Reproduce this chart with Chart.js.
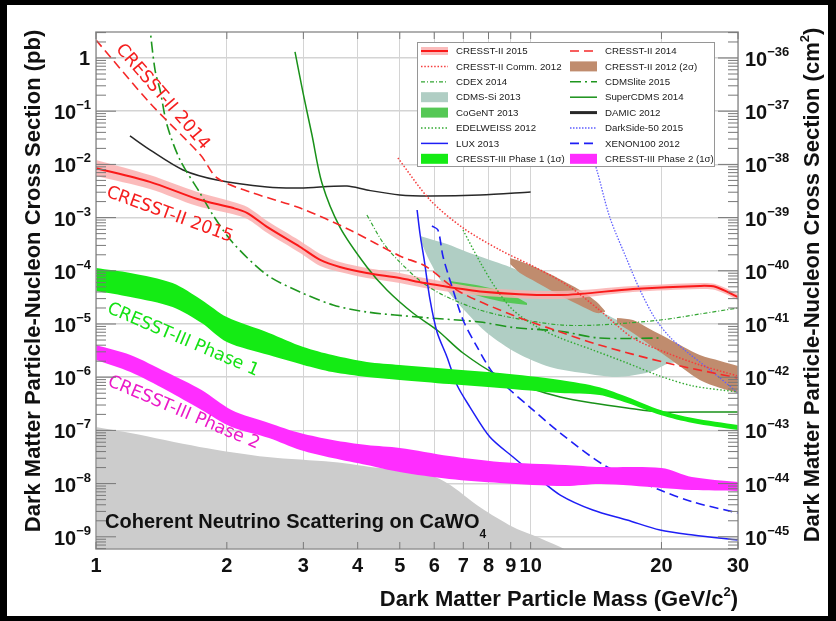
<!DOCTYPE html>
<html>
<head>
<meta charset="utf-8">
<script src="https://cdn.jsdelivr.net/npm/chart.js@4.4.1/dist/chart.umd.min.js"></script>
<style>
  html, body { margin: 0; padding: 0; background: #000; }
  #wrap { position: absolute; left: 0; top: 0; width: 836px; height: 621px; }
</style>
</head>
<body>
<div id="wrap"><canvas id="chart" width="836" height="621"></canvas></div>
<script>
// axis setup
var xTicks = [1, 2, 3, 4, 5, 6, 7, 8, 9, 10, 20, 30];
var yDecades = [0, -1, -2, -3, -4, -5, -6, -7, -8, -9];
var cmShift = 36; // 1 pb = 1e-36 cm^2

// mass in GeV/c^2, cross sections in pb
var c15Mass = [1.0, 1.33, 1.71, 2.07, 2.23, 2.48, 2.95, 3.28, 3.64, 4.2, 5.0, 5.7, 7.65, 11.7, 17.2, 24.5, 26.6, 30];
var c15Xs = [8.5e-3, 4.7e-3, 2.24e-3, 1.51e-3, 1.22e-3, 6.6e-4, 2.8e-4, 1.6e-4, 1.18e-4, 9.1e-5, 7.3e-5, 5.9e-5, 4.1e-5, 3.5e-5, 4.55e-5, 5.2e-5, 5.0e-5, 3.2e-5];
var c15Hi = [1.21e-2, 6.3e-3, 3.03e-3, 1.96e-3, 1.58e-3, 8.6e-4, 3.63e-4, 2.08e-4, 1.47e-4, 1.13e-4, 9.1e-5, 7.3e-5, 4.85e-5, 4.17e-5, 5.18e-5, 5.9e-5, 5.65e-5, 3.67e-5];
var c15Lo = [6.05e-3, 3.45e-3, 1.65e-3, 1.16e-3, 9.4e-4, 5.13e-4, 2.16e-4, 1.23e-4, 9.5e-5, 7.33e-5, 5.88e-5, 4.75e-5, 3.43e-5, 2.95e-5, 4.0e-5, 4.55e-5, 4.35e-5, 2.83e-5];

var c14Mass = [1.0, 1.33, 1.74, 1.9, 2.26, 2.95, 3.84, 5.0, 5.72, 6.88, 9.21, 11.7, 14.4, 20.6, 30];
var c14Xs = [2.18, 0.143, 0.015, 5.55e-3, 3.03e-3, 1.51e-3, 5.85e-4, 1.9e-4, 1.23e-4, 4.0e-5, 1.41e-5, 7.08e-6, 4.03e-6, 1.85e-6, 9.65e-7];

var c12Mass = [4.95, 5.87, 6.99, 8.5, 10.1, 12.13, 14.4, 17.2, 20.6, 24.5, 30];
var c12Xs = [1.32e-2, 2.14e-3, 6.4e-4, 2.46e-4, 1.23e-4, 5.4e-5, 1.83e-5, 5.45e-6, 2.85e-6, 1.7e-6, 1.05e-6];

var brown1Mass = [8.97, 9.45, 10.1, 11.08, 12.13, 13.2, 14.2, 14.84];
var brown1Hi = [1.74e-4, 1.53e-4, 1.23e-4, 8.7e-5, 5.9e-5, 4.0e-5, 2.59e-5, 1.75e-5];
var brown1Lo = [1.34e-4, 9.1e-5, 6.7e-5, 4.36e-5, 2.95e-5, 2.09e-5, 1.61e-5, 1.68e-5];
var brown2Mass = [15.8, 17.2, 18.8, 20.6, 22.5, 24.5, 27.3, 30];
var brown2Hi = [1.3e-5, 1.19e-5, 8.05e-6, 5.45e-6, 3.7e-6, 2.61e-6, 2.02e-6, 1.63e-6];
var brown2Lo = [1.05e-5, 6.78e-6, 4.03e-6, 2.4e-6, 1.43e-6, 8.9e-7, 6.27e-7, 5.05e-7];

var cdexMass = [4.2, 4.58, 5.0, 5.65, 6.42, 7.65, 9.11, 11.7, 14.4, 19.9, 24.5, 30];
var cdexXs = [1.12e-3, 3.33e-4, 1.46e-4, 5.9e-5, 3.22e-5, 1.83e-5, 1.3e-5, 9.6e-6, 9.6e-6, 1.19e-5, 1.54e-5, 2.0e-5];

var liteMass = [1.325, 1.367, 1.404, 1.457, 1.561, 1.735, 1.858, 2.067, 2.475, 2.947, 3.51, 4.2, 5.65, 7.65, 9.11, 11.7, 14.4, 19.9];
var liteXs = [5, 0.595, 0.25, 0.0551, 0.0121, 2.9e-3, 1.12e-3, 3.33e-4, 8.34e-5, 4.0e-5, 2.28e-5, 1.68e-5, 1.33e-5, 1.09e-5, 8.6e-6, 7.3e-6, 5.45e-6, 5.45e-6];

var siMass = [5.57, 5.87, 6.42, 7.14, 7.94, 9.3, 11.08, 13.2, 15.8, 18.8, 20.6, 21.7];
var siHi = [4.51e-4, 3.96e-4, 3.19e-4, 2.26e-4, 1.67e-4, 1.04e-4, 4.75e-5, 2.48e-5, 1.19e-5, 5.45e-6, 2.98e-6, 1.93e-6];
var siLo = [3.79e-4, 1.46e-4, 4.36e-5, 1.61e-5, 6.78e-6, 2.85e-6, 1.56e-6, 1.2e-6, 1.01e-6, 1.25e-6, 1.77e-6, 1.93e-6];

var superMass = [2.87, 2.995, 3.14, 3.31, 3.64, 4.2, 4.67, 5.36, 6.09, 6.99, 8.37, 9.95, 11.7, 13.9, 16.67, 19.85, 24.5, 30];
var superXs = [1.3, 0.22, 0.0357, 4.47e-3, 6.65e-4, 1.18e-4, 4.36e-5, 1.61e-5, 7.71e-6, 2.85e-6, 1.1e-6, 6.27e-7, 4.25e-7, 3.27e-7, 2.64e-7, 2.22e-7, 2.22e-7, 2.22e-7];

var cogentMass = [6.52, 7.25, 8.06, 8.97, 9.81];
var cogentHi = [6.43e-5, 5.65e-5, 4.75e-5, 3.66e-5, 2.48e-5];
var cogentLo = [5.65e-5, 3.83e-5, 2.95e-5, 2.48e-5, 2.28e-5];

var damicMass = [1.197, 1.331, 1.586, 1.898, 2.475, 2.947, 3.78, 4.2, 5.0, 5.87, 7.65, 10.0];
var damicXs = [0.0342, 0.0187, 7.85e-3, 5.09e-3, 3.76e-3, 3.6e-3, 3.93e-3, 3.3e-3, 2.66e-3, 2.55e-3, 2.66e-3, 3.03e-3];

var edwMass = [6.99, 7.65, 8.37, 9.11, 10.35, 11.7, 13.9, 16.67, 19.85, 23.64, 30];
var edwXs = [5.85e-4, 1.46e-4, 4.36e-5, 1.83e-5, 8.79e-6, 5.45e-6, 3.25e-6, 1.85e-6, 1.05e-6, 6.84e-7, 5.27e-7];

var dsMass = [13.7, 14.2, 15.2, 16.67, 17.85, 19.3, 20.9, 22.9, 25.9, 30];
var dsXs = [0.0187, 7.85e-3, 1.03e-3, 1.6e-4, 4.36e-5, 1.3e-5, 5.7e-6, 2.98e-6, 1.36e-6, 5.05e-7];

var luxMass = [5.48, 5.57, 5.69, 5.87, 6.09, 6.42, 6.77, 7.25, 8.06, 9.11, 10.35, 11.7, 13.9, 16.67, 19.85, 23.64, 30];
var luxXs = [1.39e-3, 4.71e-4, 1.6e-4, 2.83e-5, 7.08e-6, 2.4e-6, 7.13e-7, 2.75e-7, 7.5e-8, 3.16e-8, 1.33e-8, 6.1e-9, 3.19e-9, 2.07e-9, 1.34e-9, 1.08e-9, 8.7e-10];

var xeMass = [5.93, 6.12, 6.29, 6.63, 6.99, 7.53, 8.19, 8.97, 9.95, 11.7, 15.0, 19.85, 23.64, 30];
var xeXs = [6.95e-4, 5.85e-4, 1.82e-4, 4.36e-5, 1.19e-5, 3.7e-6, 1.2e-6, 5.74e-7, 2.75e-7, 8.93e-8, 2.05e-8, 7.58e-9, 4.51e-9, 2.8e-9];

var p1Mass = [1, 1.2, 1.5, 1.75, 2, 2.5, 3, 3.5, 4.2, 5, 6.5, 8.5, 11.7, 14.4, 16.7, 19.9, 23.6, 30];
var p1Hi = [1.13e-4, 9.1e-5, 5.9e-5, 2.83e-5, 1.35e-5, 6.8e-6, 3.7e-6, 2.61e-6, 1.93e-6, 1.7e-6, 1.43e-6, 1.2e-6, 8.9e-7, 6.5e-7, 4.25e-7, 2.42e-7, 1.71e-7, 1.26e-7];
var p1Lo = [4.17e-5, 3.22e-5, 2.09e-5, 1.045e-5, 4.6e-6, 2.61e-6, 1.7e-6, 1.25e-6, 1.01e-6, 8.9e-7, 7.45e-7, 6.27e-7, 5.05e-7, 4.63e-7, 3.27e-7, 1.95e-7, 1.38e-7, 1.02e-7];

var p2Mass = [1, 1.2, 1.45, 1.75, 2.05, 2.5, 2.95, 3.5, 4.2, 5, 6.5, 8.5, 12, 14.5, 20, 23.5, 30];
var p2Hi = [4.03e-6, 2.61e-6, 1.25e-6, 5.74e-7, 2.42e-7, 1.38e-7, 8.9e-8, 6.6e-8, 5.3e-8, 4.67e-8, 3.3e-8, 2.55e-8, 2.24e-8, 2.05e-8, 1.96e-8, 1.33e-8, 1.07e-8];
var p2Lo = [2.1e-6, 1.25e-6, 5.74e-7, 2.42e-7, 1.16e-7, 7.2e-8, 4.28e-8, 3.03e-8, 2.24e-8, 1.65e-8, 1.22e-8, 1.03e-8, 9.0e-9, 9.8e-9, 8.3e-9, 7.6e-9, 7.3e-9];

var nuMass = [1, 1.2, 1.73, 2.48, 3.51, 4.5, 5.57, 6.42, 7.65, 9.11, 10.1, 11.7, 12.8];
var nuXs = [1.16e-7, 8.9e-8, 4.9e-8, 3.16e-8, 2.55e-8, 1.96e-8, 1.65e-8, 1.03e-8, 3.6e-9, 1.53e-9, 1.08e-9, 6.4e-10, 4.5e-10];

var legendLabels = ['CRESST-II 2015', 'CRESST-II 2014', 'CRESST-II Comm. 2012', 'CRESST-II 2012 (2σ)',
  'CDEX 2014', 'CDMSlite 2015', 'CDMS-Si 2013', 'SuperCDMS 2014', 'CoGeNT 2013', 'DAMIC 2012',
  'EDELWEISS 2012', 'DarkSide-50 2015', 'LUX 2013', 'XENON100 2012',
  'CRESST-III Phase 1 (1σ)', 'CRESST-III Phase 2 (1σ)'];

var styles = {
  'CRESST-II 2015': { kind: 'band', color: 'rgb(250,25,25)', fillColor: 'rgba(250,175,175,0.85)', width: 2 },
  'CRESST-II 2014': { kind: 'line', color: 'rgb(245,40,40)', width: 1.6, dash: [9, 5] },
  'CRESST-II Comm. 2012': { kind: 'line', color: 'rgb(245,60,60)', width: 1.5, dash: [1.5, 1.8] },
  'CRESST-II 2012 (2σ)': { kind: 'box', color: 'rgb(192,140,110)' },
  'CDEX 2014': { kind: 'line', color: 'rgb(50,165,50)', width: 1.2, dash: [4, 2, 1, 2] },
  'CDMSlite 2015': { kind: 'line', color: 'rgb(30,150,30)', width: 1.6, dash: [11, 4, 2, 4] },
  'CDMS-Si 2013': { kind: 'box', color: 'rgb(176,206,196)' },
  'SuperCDMS 2014': { kind: 'line', color: 'rgb(25,145,25)', width: 1.5, dash: [] },
  'CoGeNT 2013': { kind: 'box', color: 'rgb(85,200,85)' },
  'DAMIC 2012': { kind: 'line', color: 'rgb(40,40,40)', width: 1.5, dash: [] },
  'EDELWEISS 2012': { kind: 'line', color: 'rgb(50,170,50)', width: 1.4, dash: [1.5, 2] },
  'DarkSide-50 2015': { kind: 'line', color: 'rgb(95,95,255)', width: 1.3, dash: [1.5, 1.5] },
  'LUX 2013': { kind: 'line', color: 'rgb(30,30,245)', width: 1.5, dash: [] },
  'XENON100 2012': { kind: 'line', color: 'rgb(30,30,245)', width: 1.6, dash: [9, 5] },
  'CRESST-III Phase 1 (1σ)': { kind: 'box', color: 'rgb(20,235,20)' },
  'CRESST-III Phase 2 (1σ)': { kind: 'box', color: 'rgb(255,45,255)' }
};

function pts(ms, vs) {
  return ms.map(function (m, i) { return { x: m, y: vs[i] }; });
}
function lineSet(name, ms, vs, order) {
  var s = styles[name];
  return {
    label: name, data: pts(ms, vs), showLine: true, pointRadius: 0, fill: false,
    borderColor: s.color, borderWidth: s.width, borderDash: s.dash || [], tension: 0.3, order: order
  };
}
function edgeSet(name, ms, vs) {
  return {
    label: name + ' edge', data: pts(ms, vs), showLine: true, pointRadius: 0, fill: false,
    borderColor: 'rgba(0,0,0,0)', borderWidth: 0.01, tension: 0.3, order: 200
  };
}
function fillSet(name, ms, vs, color, order) {
  return {
    label: name, data: pts(ms, vs), showLine: true, pointRadius: 0, fill: '-1',
    backgroundColor: color, borderColor: 'rgba(0,0,0,0)', borderWidth: 0.01, tension: 0.3, order: order
  };
}

var datasets = [
  { label: 'neutrino', data: pts(nuMass, nuXs), showLine: true, pointRadius: 0, fill: 'start',
    backgroundColor: 'rgb(204,204,204)', borderColor: 'rgba(0,0,0,0)', borderWidth: 0.01, tension: 0.3, order: 100 },
  edgeSet('CDMS-Si 2013', siMass, siLo),
  fillSet('CDMS-Si 2013', siMass, siHi, styles['CDMS-Si 2013'].color, 90),
  edgeSet('brown1', brown1Mass, brown1Lo),
  fillSet('CRESST-II 2012 (2σ)', brown1Mass, brown1Hi, styles['CRESST-II 2012 (2σ)'].color, 85),
  edgeSet('brown2', brown2Mass, brown2Lo),
  fillSet('CRESST-II 2012 (2σ) b', brown2Mass, brown2Hi, styles['CRESST-II 2012 (2σ)'].color, 85),
  edgeSet('CoGeNT', cogentMass, cogentLo),
  fillSet('CoGeNT 2013', cogentMass, cogentHi, styles['CoGeNT 2013'].color, 80),
  edgeSet('c15', c15Mass, c15Lo),
  fillSet('CRESST-II 2015 band', c15Mass, c15Hi, styles['CRESST-II 2015'].fillColor, 70),
  lineSet('DAMIC 2012', damicMass, damicXs, 60),
  lineSet('CDEX 2014', cdexMass, cdexXs, 55),
  lineSet('CDMSlite 2015', liteMass, liteXs, 55),
  lineSet('EDELWEISS 2012', edwMass, edwXs, 55),
  lineSet('SuperCDMS 2014', superMass, superXs, 55),
  lineSet('DarkSide-50 2015', dsMass, dsXs, 55),
  lineSet('LUX 2013', luxMass, luxXs, 52),
  lineSet('XENON100 2012', xeMass, xeXs, 52),
  lineSet('CRESST-II Comm. 2012', c12Mass, c12Xs, 50),
  lineSet('CRESST-II 2014', c14Mass, c14Xs, 45),
  lineSet('CRESST-II 2015', c15Mass, c15Xs, 40),
  edgeSet('p1', p1Mass, p1Lo),
  fillSet('CRESST-III Phase 1 (1σ)', p1Mass, p1Hi, styles['CRESST-III Phase 1 (1σ)'].color, 20),
  edgeSet('p2', p2Mass, p2Lo),
  fillSet('CRESST-III Phase 2 (1σ)', p2Mass, p2Hi, styles['CRESST-III Phase 2 (1σ)'].color, 10)
];

var sans = '"Liberation Sans", Arial, Helvetica, sans-serif';

// draw text made of pieces [text, size, dy] starting at x (or aligned)
function drawPieces(ctx, pieces, x, y, align, weight) {
  var w = weight || 'bold';
  var widths = pieces.map(function (p) {
    ctx.font = w + ' ' + p[1] + 'px ' + sans;
    return ctx.measureText(p[0]).width;
  });
  var total = widths.reduce(function (a, b) { return a + b; }, 0);
  var x0 = align === 'right' ? x - total : (align === 'center' ? x - total / 2 : x);
  ctx.textAlign = 'left';
  ctx.textBaseline = 'alphabetic';
  pieces.forEach(function (p, i) {
    ctx.font = w + ' ' + p[1] + 'px ' + sans;
    ctx.fillText(p[0], x0, y + p[2]);
    x0 += widths[i];
  });
}

var bgPlugin = {
  id: 'bg',
  beforeDraw: function (chart) {
    var c = chart.ctx;
    c.save();
    c.fillStyle = '#000';
    c.fillRect(0, 0, chart.width, chart.height);
    c.fillStyle = '#fff';
    c.fillRect(7, 5, 821, 611);
    c.restore();
  }
};

var decoPlugin = {
  id: 'deco',
  afterDatasetsDraw: function (chart) {
    var c = chart.ctx, a = chart.chartArea;
    var xs = chart.scales.x, ys = chart.scales.y;
    c.save();

    // annotations: text, mass, xs, angle, colour, shift off the curve
    var notes = [
      ['CRESST-II 2014', 1.40, 0.165, 49, 'rgb(245,30,30)', -4],
      ['CRESST-II 2015', 1.48, 1.17e-3, 20, 'rgb(245,30,30)', 1],
      ['CRESST-III Phase 1', 1.586, 5.0e-6, 23, 'rgb(20,225,20)', 0],
      ['CRESST-III Phase 2', 1.594, 2.22e-7, 23, 'rgb(235,25,200)', 1]
    ];
    notes.forEach(function (n) {
      c.save();
      c.translate(xs.getPixelForValue(n[1]), ys.getPixelForValue(n[2]));
      c.rotate(n[3] * Math.PI / 180);
      c.font = '17.5px "DejaVu Sans", sans-serif';
      c.fillStyle = n[4];
      c.textAlign = 'center';
      c.textBaseline = 'middle';
      c.fillText(n[0], 0, n[5]);
      c.restore();
    });
    c.fillStyle = '#111';
    var nx = xs.getPixelForValue(1.049), ny = ys.getPixelForValue(1.46e-9);
    drawPieces(c, [['Coherent Neutrino Scattering on CaWO', 20, 0], ['4', 12, 10]], nx, ny, 'left');

    // frame
    c.strokeStyle = 'rgb(150,150,150)';
    c.lineWidth = 1.5;
    c.strokeRect(a.left, a.top, a.right - a.left, a.bottom - a.top);

    // tick marks
    c.lineWidth = 1;
    c.strokeStyle = 'rgb(120,120,120)';
    c.beginPath();
    xTicks.forEach(function (v) {
      var px = xs.getPixelForValue(v);
      c.moveTo(px, a.bottom); c.lineTo(px, a.bottom - 7);
      c.moveTo(px, a.top); c.lineTo(px, a.top + 7);
    });
    for (var d = -10; d <= 0; d++) {
      for (var k = 1; k <= 9; k++) {
        var v = k * Math.pow(10, d);
        var py = ys.getPixelForValue(v);
        if (py < a.top || py > a.bottom) continue;
        var len = k === 1 ? 20 : 10;
        c.moveTo(a.left, py); c.lineTo(a.left + len, py);
        c.moveTo(a.right, py); c.lineTo(a.right - len, py);
      }
    }
    c.stroke();

    // legend
    var lx = 417, ly = 42, lw = 297, lh = 124;
    c.fillStyle = '#fff';
    c.fillRect(lx, ly, lw, lh);
    c.strokeStyle = 'rgb(150,150,150)';
    c.lineWidth = 1;
    c.strokeRect(lx + 0.5, ly + 0.5, lw, lh);
    legendLabels.forEach(function (name, i) {
      var col = i % 2, row = Math.floor(i / 2);
      var sx = col === 0 ? 421 : 570;
      var sy = 51 + row * 15.4;
      var s = styles[name];
      if (s.kind === 'box') {
        c.fillStyle = s.color;
        c.fillRect(sx, sy - 5, 27, 10);
      } else if (s.kind === 'band') {
        c.fillStyle = s.fillColor;
        c.fillRect(sx, sy - 4, 27, 8);
        c.strokeStyle = s.color; c.lineWidth = 2; c.setLineDash([]);
        c.beginPath(); c.moveTo(sx, sy); c.lineTo(sx + 27, sy); c.stroke();
      } else {
        c.strokeStyle = s.color;
        c.lineWidth = name === 'DAMIC 2012' ? 3 : s.width;
        c.setLineDash(s.dash);
        c.beginPath(); c.moveTo(sx, sy); c.lineTo(sx + 27, sy); c.stroke();
        c.setLineDash([]);
      }
      c.fillStyle = '#1a1a1a';
      c.font = '9.7px ' + sans;
      c.textAlign = 'left';
      c.textBaseline = 'middle';
      c.fillText(name, sx + 35, sy + 0.5);
    });
    c.restore();
  },
  afterDraw: function (chart) {
    var c = chart.ctx, a = chart.chartArea;
    var xs = chart.scales.x, ys = chart.scales.y;
    c.save();
    c.fillStyle = '#111';
    // x tick labels
    xTicks.forEach(function (v) {
      drawPieces(c, [[String(v), 20, 0]], xs.getPixelForValue(v), 572, 'center');
    });
    // y tick labels, left in pb and right in cm^2
    yDecades.forEach(function (d) {
      var py = ys.getPixelForValue(Math.pow(10, d));
      if (d === 0) {
        drawPieces(c, [['1', 20, 0]], 90, py + 7, 'right');
      } else {
        drawPieces(c, [['10', 20, 0], ['\u2212' + (-d), 13, -10]], 91, py + 8, 'right');
      }
      drawPieces(c, [['10', 20, 0], ['\u2212' + (cmShift - d), 13, -10]], 745, py + 8, 'left');
    });
    // axis titles
    drawPieces(c, [['Dark Matter Particle Mass (GeV/c', 22, 0], ['2', 13, -10], [')', 22, 0]], a.right, 606, 'right');
    c.save();
    c.translate(40, 281);
    c.rotate(-Math.PI / 2);
    drawPieces(c, [['Dark Matter Particle-Nucleon Cross Section (pb)', 22, 0]], 0, 0, 'center');
    c.restore();
    c.save();
    c.translate(819, 285);
    c.rotate(-Math.PI / 2);
    drawPieces(c, [['Dark Matter Particle-Nucleon Cross Section (cm', 22, 0], ['2', 13, -10], [')', 22, 0]], 0, 0, 'center');
    c.restore();
    c.restore();
  }
};

var ctx = document.getElementById('chart').getContext('2d');
var chart = new Chart(ctx, {
  type: 'scatter',
  data: { datasets: datasets },
  options: {
    responsive: false,
    animation: false,
    devicePixelRatio: 1,
    layout: { padding: { left: 96, top: 32, right: 98, bottom: 72 } },
    plugins: { legend: { display: false }, tooltip: { enabled: false } },
    scales: {
      x: {
        type: 'logarithmic', min: 1, max: 30,
        afterBuildTicks: function (scale) { scale.ticks = xTicks.map(function (v) { return { value: v }; }); },
        ticks: { display: false },
        grid: { color: 'rgb(212,212,212)', lineWidth: 1, drawTicks: false },
        border: { display: false }
      },
      y: {
        type: 'logarithmic', min: 5.9e-10, max: 3.08,
        afterBuildTicks: function (scale) { scale.ticks = yDecades.map(function (d) { return { value: Math.pow(10, d) }; }); },
        ticks: { display: false },
        grid: { color: 'rgb(212,212,212)', lineWidth: 1.5, drawTicks: false },
        border: { display: false }
      }
    }
  },
  plugins: [bgPlugin, decoPlugin]
});
</script>
</body>
</html>
